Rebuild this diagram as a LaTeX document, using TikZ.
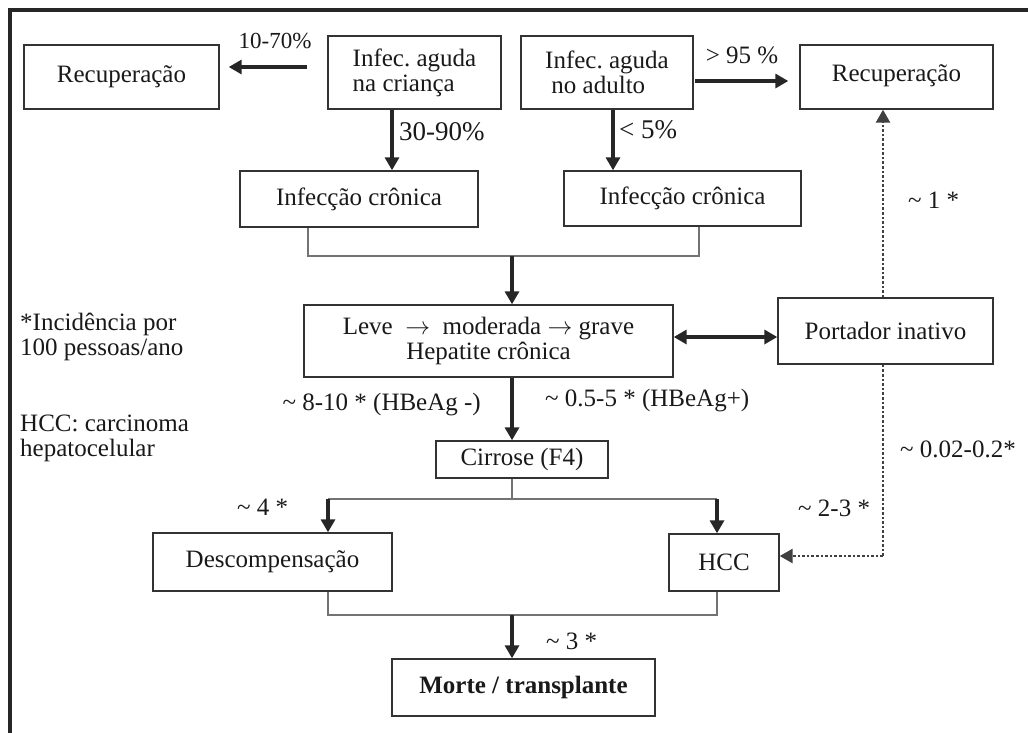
\documentclass[tikz,border=0pt]{standalone}
\usepackage{fontspec}
\setmainfont{Liberation Serif}
\usetikzlibrary{arrows.meta}
\begin{document}
\begin{tikzpicture}[x=1pt,y=-1pt,
  box/.style={draw=black!80,line width=1.4pt,inner sep=0pt,font=\fontsize{25}{25}\selectfont,text=black!90},
  lbl/.style={inner sep=0pt,font=\fontsize{25}{25}\selectfont,text=black!90},
  arr/.style={line width=3.4pt,draw=black!85,-{Triangle[length=13pt,width=14pt]}},
  darr/.style={line width=3.4pt,draw=black!85,{Triangle[length=13pt,width=14pt]}-{Triangle[length=13pt,width=14pt]}},
  dot/.style={line width=2.6pt,draw=black!75,dotted},
  darrow/.style={dot,-{Triangle[length=13pt,width=14pt]}},
  link/.style={line width=1.5pt,draw=black!55}]
\useasboundingbox (0,0) rectangle (1028,732);
\clip (0,0) rectangle (1028,732);
\draw[line width=3.2pt,draw=black!85] (10,760) -- (10,10) -- (1060,10);
% boxes
\node[box,minimum width=195pt,minimum height=64pt] (rec1) at (121.5,77) {Recuperação};
\node[box,minimum width=173pt,minimum height=73pt,align=left] (child) at (414.5,72.5) {Infec.\ aguda\\na criança};
\node[box,minimum width=172pt,minimum height=73pt,align=left] (adult) at (607,72.5) {Infec.\ aguda\\\ no adulto};
\node[box,minimum width=193pt,minimum height=64pt] (rec2) at (896.5,77) {\raisebox{7pt}{Recuperação}};
\node[box,minimum width=238pt,minimum height=56pt] (chr1) at (359,199) {Infecção crônica};
\node[box,minimum width=237pt,minimum height=55pt] (chr2) at (682.5,198.5) {Infecção crônica};
\node[box,minimum width=369pt,minimum height=72pt,align=center] (hep) at (488.5,341) {Leve \ $\rightarrow$\ \ moderada $\rightarrow$ grave\\Hepatite crônica};
\node[box,minimum width=215pt,minimum height=66pt] (port) at (885.5,331) {Portador inativo};
\node[box,minimum width=172pt,minimum height=37pt] (cir) at (522,459.5) {Cirrose (F4)};
\node[box,minimum width=239pt,minimum height=58pt] (desc) at (272.5,562) {Descompensação};
\node[box,minimum width=110pt,minimum height=57pt] (hcc) at (724,562.5) {HCC};
\node[box,minimum width=263pt,minimum height=57pt] (morte) at (523.5,687.5) {\bfseries Morte / transplante};
% junction coordinates
\coordinate (j1) at (512,256);
\coordinate (j2) at (512,499);
\coordinate (j3) at (512,615);
\coordinate (cx) at (883,556);
\coordinate (a1) at (307,67);
\coordinate (a2) at (695,81);
% top arrows
\draw[arr,shorten >=9pt] (a1) -- (rec1.east |- a1);
\draw[arr,shorten >=11pt] (a2) -- (rec2.west |- a2);
\draw[arr] (child.south -| 392,0) -- (chr1.north -| 392,0);
\draw[arr] (adult.south -| 613,0) -- (chr2.north -| 613,0);
% merge of chronic infections
\draw[link] (chr1.south -| 308,0) |- (j1) -| (chr2.south -| 699,0);
\draw[arr] (j1) -- (hep.north -| j1);
\draw[darr] (hep.east |- 0,337) -- (port.west |- 0,337);
\draw[arr] (hep.south -| j1) -- (cir.north -| j1);
% cirrhosis branches
\draw[link] (cir.south -| j2) -- (j2);
\draw[link] (328,499) -- (717,499);
\draw[arr] (328,499) -- (desc.north -| 328,0);
\draw[arr] (717,499) -- (hcc.north -| 717,0);
% to death
\draw[link] (desc.south -| 328,0) |- (j3) -| (hcc.south -| 717,0);
\draw[arr] (j3) -- (morte.north -| j3);
% dotted
\draw[darrow] (port.north -| cx) -- (rec2.south -| cx);
\draw[dot] (port.south -| cx) -- (cx);
\draw[darrow] (cx) -- (hcc.east |- cx);
% labels
\node[lbl] (l1) at (275,41) {\fontsize{23}{25}\selectfont 10-70\%};
\node[lbl,anchor=west] (l2) at (399,132) {\fontsize{27}{25}\selectfont 30-90\%};
\node[lbl] (l3) at (742,55) {> 95 \%};
\node[lbl,anchor=west] (l4) at (619,130) {\fontsize{27}{25}\selectfont < 5\%};
\node[lbl,anchor=west] (l5) at (908,200) {\textasciitilde\ 1 *};
\node[lbl,anchor=west,align=left] (n1) at (20,337) {*Incidência por\\100 pessoas/ano};
\node[lbl,anchor=west,align=left] (n2) at (20,438) {HCC: carcinoma\\hepatocelular};
\node[lbl,anchor=east] (l6) at (481,405) {\textasciitilde\ 8-10 * (HBeAg -)};
\node[lbl,anchor=west] (l7) at (545,401) {\textasciitilde\ 0.5-5 * (HBeAg+)};
\node[lbl,anchor=west] (l8) at (900,449) {\textasciitilde\ 0.02-0.2*};
\node[lbl,anchor=west] (l9) at (798,508) {\textasciitilde\ 2-3 *};
\node[lbl,anchor=west] (l10) at (237,507) {\textasciitilde\ 4 *};
\node[lbl,anchor=west] (l11) at (546,641) {\textasciitilde\ 3 *};
\end{tikzpicture}
\end{document}
